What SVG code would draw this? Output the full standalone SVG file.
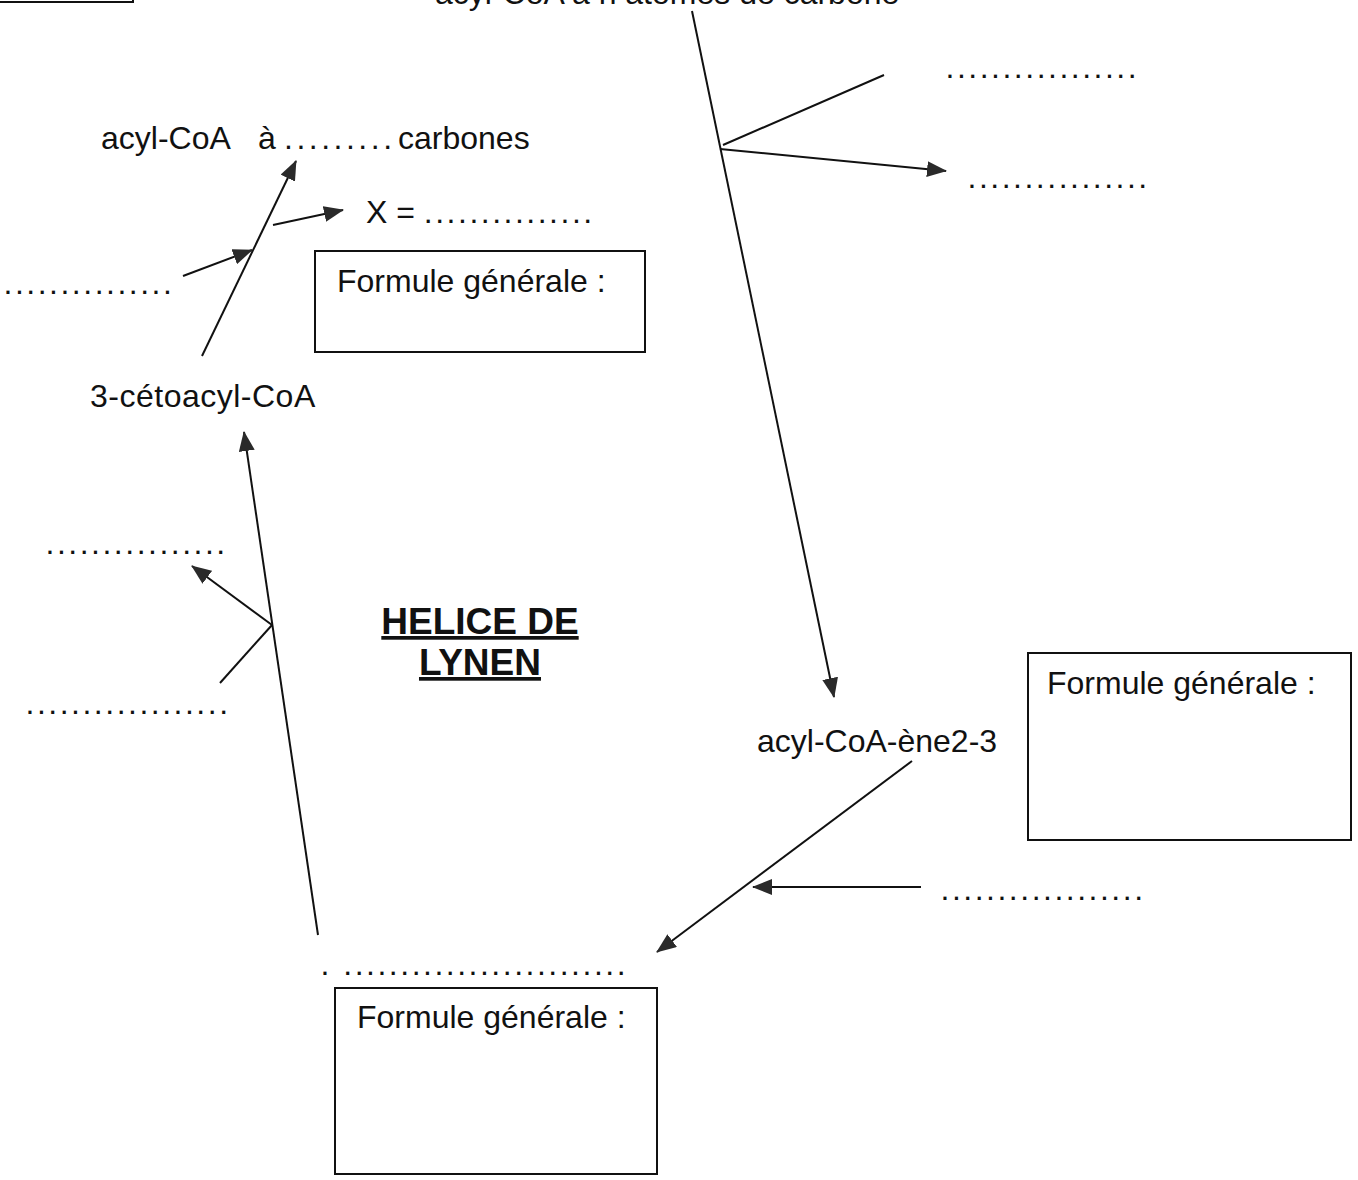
<svg xmlns="http://www.w3.org/2000/svg" width="1358" height="1180" viewBox="0 0 1358 1180">
<defs>
<style>
text { font-family: "Liberation Sans", Arial, sans-serif; font-size: 32px; fill: #111; }
.dots { letter-spacing: 2.5px; }
.title { font-weight: bold; font-size: 37px; text-decoration: underline; }
.box { fill: none; stroke: #111; stroke-width: 2; }
#connectors line { stroke: #111; stroke-width: 2; fill: none; }
</style>
<marker id="ah" viewBox="0 0 20 16" refX="19" refY="8" markerWidth="20" markerHeight="16" markerUnits="userSpaceOnUse" orient="auto">
<path d="M0,0 L20,8 L0,16 z" fill="#2a2a2a"/>
</marker>
</defs>
<rect width="1358" height="1180" fill="#fff"/>

<g id="header-box"><rect class="box" x="-5" y="-40" width="138" height="42"/></g>
<g id="top-label"><text x="435" y="4">acyl-CoA à n atomes de carbone</text></g>

<g id="acyl-n2"><text y="149"><tspan x="101">acyl-CoA</tspan><tspan x="258">à</tspan><tspan x="284" class="dots" style="letter-spacing:3.5px">.........</tspan><tspan x="398">carbones</tspan></text></g>
<g id="x-product"><text x="366" y="223">X = <tspan class="dots">...............</tspan></text></g>
<g id="box1"><rect class="box" x="315" y="251" width="330" height="101"/><text x="337" y="292">Formule générale :</text></g>
<g id="cofactor-left1"><text class="dots" x="3.5" y="294">...............</text></g>
<g id="cetoacyl"><text x="90" y="407" style="letter-spacing:0.5px">3-cétoacyl-CoA</text></g>
<g id="cofactor-left2"><text class="dots" x="45.5" y="554">................</text></g>
<g id="cofactor-left3"><text class="dots" x="25.5" y="714">..................</text></g>
<g id="title"><text class="title" x="480" y="634" text-anchor="middle">HELICE DE</text><text class="title" x="480" y="675" text-anchor="middle">LYNEN</text></g>
<g id="cofactor-tr1"><text class="dots" x="945.5" y="78">.................</text></g>
<g id="cofactor-tr2"><text class="dots" x="967.5" y="188">................</text></g>
<g id="enoyl"><text x="757" y="752">acyl-CoA-ène2-3</text></g>
<g id="box2"><rect class="box" x="1028" y="653" width="323" height="187"/><text x="1047" y="694">Formule générale :</text></g>
<g id="cofactor-right"><text class="dots" x="940.5" y="900">..................</text></g>
<g id="hydroxyacyl"><text class="dots" x="320.5" y="975">. .........................</text></g>
<g id="box3"><rect class="box" x="335" y="988" width="322" height="186"/><text x="357" y="1028">Formule générale :</text></g>

<g id="connectors">
<line x1="692" y1="11" x2="834" y2="697" marker-end="url(#ah)"/>
<line x1="723" y1="145" x2="884" y2="75"/>
<line x1="720" y1="149" x2="946" y2="171" marker-end="url(#ah)"/>
<line x1="202" y1="356" x2="296" y2="161" marker-end="url(#ah)"/>
<line x1="183" y1="276" x2="252" y2="250" marker-end="url(#ah)"/>
<line x1="273" y1="225" x2="343" y2="210" marker-end="url(#ah)"/>
<line x1="318" y1="935" x2="244" y2="432" marker-end="url(#ah)"/>
<line x1="272" y1="625" x2="192" y2="566" marker-end="url(#ah)"/>
<line x1="272" y1="625" x2="220" y2="683"/>
<line x1="912" y1="761" x2="657" y2="952" marker-end="url(#ah)"/>
<line x1="921" y1="887" x2="753" y2="887" marker-end="url(#ah)"/>
</g>
</svg>
